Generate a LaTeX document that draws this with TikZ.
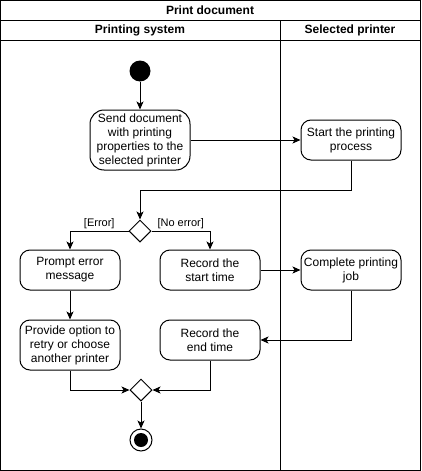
\documentclass[tikz,border=0pt]{standalone}
\usepackage{fontspec}
\setmainfont{Liberation Sans}
\usetikzlibrary{arrows.meta,shapes.geometric}

\tikzset{
  action/.style={draw, rounded corners=10pt, minimum width=100pt, minimum height=40pt,
    align=center, inner sep=1pt, font=\fontsize{12}{14}\selectfont},
  decision/.style={draw, diamond, minimum width=22pt, minimum height=22pt, inner sep=0pt},
  flow/.style={-{Stealth[length=8pt,width=7pt,inset=2pt]}},
  guard/.style={font=\fontsize{11}{13}\selectfont, inner sep=2pt},
  lanehead/.style={font=\bfseries\fontsize{12}{14}\selectfont}
}

\begin{document}
\begin{tikzpicture}[x=1pt, y=-1pt, line width=1pt]
\useasboundingbox (0,0) rectangle (422,471);
% Frame and lanes
\draw (0.5,0.5) rectangle (420.5,470.5);
\draw (0.5,20) -- (420.5,20);
\draw (0.5,40) -- (420.5,40);
\draw (280.5,20) -- (280.5,470.5);
\node[lanehead] (title) at (210,10) {Print document};
\node[lanehead] (lanesys) at (140,30) {Printing system};
\node[lanehead] (laneprn) at (350,30) {Selected printer};
% Start
\node[circle, fill=black, minimum size=21pt, inner sep=0pt] (start) at (140,71) {};
% Printing system
\node[action, minimum height=60pt, rounded corners=14pt] (send) at (140,140) {Send document\\with printing\\properties to the\\selected printer};
\node[decision] (split) at (140,231) {};
\node[action] (prompt) at (70,270) {Prompt error\\message};
\node[action] (recstart) at (210,270) {Record the\\start time};
\node[action, minimum height=50pt] (retry) at (70,345) {Provide option to\\retry or choose\\another printer};
\node[action] (recend) at (210,340) {Record the\\end time};
\node[decision] (merge) at (141,390) {};
% End
\node[circle, draw, minimum size=22pt, inner sep=0pt] (stop) at (141,440) {};
\fill (stop.center) circle (7pt);
% Selected printer
\node[action] (startjob) at (351,140) {Start the printing\\process};
\node[action] (donejob) at (351,270) {Complete printing\\job};
% Flows
\coordinate (back) at (140,190);
\draw[flow] (start) -- (send);
\draw[flow] (send.east) -- (startjob.west);
\draw[flow] (startjob.south) |- (back) -- (split.north);
\draw[flow] (split.west) -| node[guard, pos=0.25, above] {[Error]} (prompt.north);
\draw[flow] (split.east) -| node[guard, pos=0.25, above] {[No error]} (recstart.north);
\draw[flow] (recstart.east) -- (donejob.west);
\draw[flow] (prompt.south) -- (retry.north);
\draw[flow] (donejob.south) |- (recend.east);
\draw[flow] (retry.south) |- (merge.west);
\draw[flow] (recend.south) |- (merge.east);
\draw[flow] (merge.south) -- (stop.north);
\end{tikzpicture}
\end{document}
